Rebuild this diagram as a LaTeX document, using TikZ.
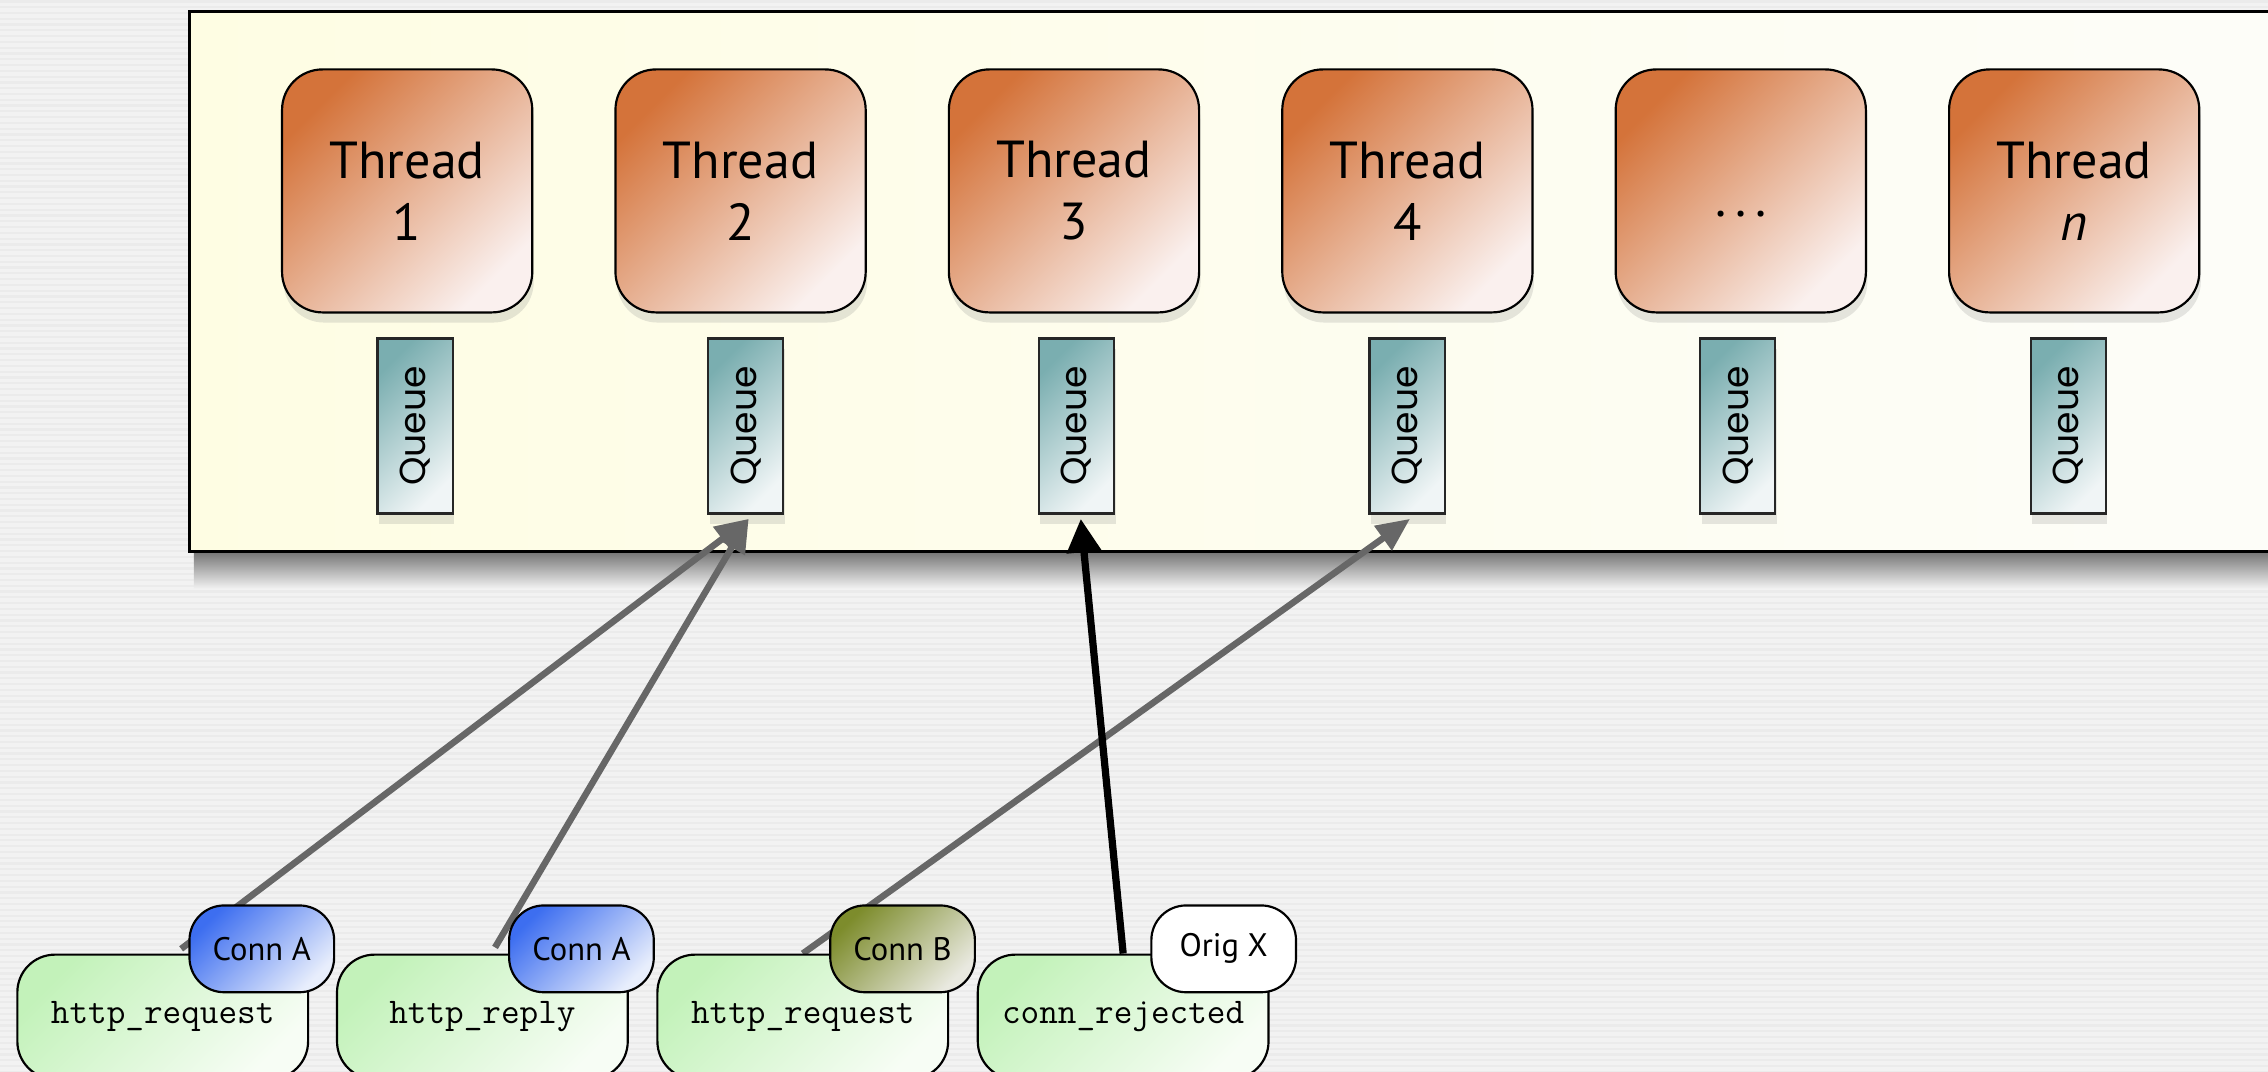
\documentclass[tikz,border=0pt]{standalone}
\usepackage{fontspec}
\setmainfont{PT Sans}
\newfontfamily\queuefont{Poppins}
\usepackage{graphicx}
\usepackage{tikz}
\usetikzlibrary{calc,shadows,arrows.meta}
\definecolor{bgray}{HTML}{F2F2F2}
\definecolor{stripe}{HTML}{EBEBEB}
\definecolor{panelL}{HTML}{FEFDE3}
\definecolor{panelR}{HTML}{FDFDF9}
\definecolor{thrA}{HTML}{D4733A}
\definecolor{thrB}{HTML}{FAF0EE}
\definecolor{queA}{HTML}{7AAEB0}
\definecolor{queB}{HTML}{F0F5F6}
\definecolor{msgA}{HTML}{C3F2BA}
\definecolor{msgB}{HTML}{F7FDF5}
\definecolor{connA}{HTML}{3D6EF0}
\definecolor{connAL}{HTML}{E8EEFC}
\definecolor{connB}{HTML}{7D8C2C}
\definecolor{connBL}{HTML}{E9E9E0}
\definecolor{linkgray}{HTML}{676767}
\pgfdeclarelayer{front}
\pgfsetlayers{main,front}
\tikzset{
  panel/.style={draw=black, line width=2pt, left color=panelL, right color=panelR},
  thread/.style={draw=black, line width=1.5pt, rounded corners=28pt,
    minimum width=173pt, minimum height=168pt, inner sep=0pt,
    top color=thrA, bottom color=thrB, shading angle=45,
    drop shadow={shadow xshift=1pt, shadow yshift=-7pt, opacity=0.2},
    align=center, font=\fontsize{36}{43}\selectfont},
  queue/.style={draw=black!85, line width=1.5pt,
    minimum width=52pt, minimum height=121pt, inner sep=0pt,
    top color=queA, bottom color=queB, shading angle=45,
    drop shadow={shadow xshift=1pt, shadow yshift=-7pt, opacity=0.2},
    font=\queuefont\fontsize{25}{30}\selectfont},
  msg/.style={draw=black, line width=1.5pt, rounded corners=26pt,
    minimum width=201pt, minimum height=86pt,
    top color=msgA, bottom color=msgB, shading angle=45,
    font=\ttfamily\fontsize{25}{30}\selectfont},
  badge/.style={draw=black, line width=1.5pt, rounded corners=24pt,
    minimum width=100pt, minimum height=60pt, inner sep=0pt,
    font=\fontsize{22.5}{26}\selectfont},
  badgeA/.style={badge, top color=connA, bottom color=connAL, shading angle=45},
  badgeB/.style={badge, top color=connB, bottom color=connBL, shading angle=45},
  badgeX/.style={badge, fill=white},
  msgarrow/.style={draw=linkgray, line width=4.5pt, -{Triangle[length=23pt,width=20pt]}},
  rejarrow/.style={draw=black, line width=5pt, -{Triangle[length=23pt,width=23pt]}}
}
\begin{document}
\begin{tikzpicture}[x=1pt,y=1pt]
  \useasboundingbox (0,0) rectangle (1568,741);
  \clip (0,0) rectangle (1568,741);
  % striped backdrop
  \fill[bgray] (0,0) rectangle (1568,741);
  \foreach \y in {0,4,...,740} \draw[stripe, line width=1.5pt] (0,\y) -- (1568,\y);

  % thread pool panel
  \shade[top color=black!55, bottom color=bgray] (134,334) rectangle (1568,360);
  \draw[panel] (131,360) rectangle (1600,733);

  \foreach \lbl [count=\k] in {Thread\\1, Thread\\2, Thread\\3, Thread\\4,
                               .\hspace{6pt}.\hspace{6pt}.\rule{0pt}{36pt}, Thread\\\textit{n}}
    \node[thread] (t\k) at ({281.5+230.5*(\k-1)},609) {\lbl};

  \foreach \k in {1,...,6}
    \node[queue] (q\k) at ({287+228.6*(\k-1)},446.5) {\rotatebox{90}{Queue}};

  % messages with their connections
  \begin{pgfonlayer}{front}
    \node[msg] (m1) at (112.5,38) {http\_request};
    \node[msg] (m2) at (333.5,38) {http\_reply};
    \node[msg] (m3) at (555,38) {http\_request};
    \node[msg] (m4) at (776.5,38) {conn\_rejected};
    \node[badgeA] (c1) at (181,85) {Conn A};
    \node[badgeA] (c2) at (402,85) {Conn A};
    \node[badgeB] (c3) at (624,85) {Conn B};
    \node[badgeX] (c4) at (846,85) {Orig X};
  \end{pgfonlayer}

  \draw[msgarrow] ($(c1.west)+(-5,0)$) -- ($(q2.south)+(2,-3)$);
  \draw[msgarrow] ($(c2.west)+(-9,1)$) -- ($(q2.south)+(2,-3)$);
  \draw[msgarrow] (m3.north) -- ($(q4.south)+(2,-3)$);
  \draw[rejarrow] (m4.north) -- ($(q3.south)+(3,-3)$);
\end{tikzpicture}
\end{document}
